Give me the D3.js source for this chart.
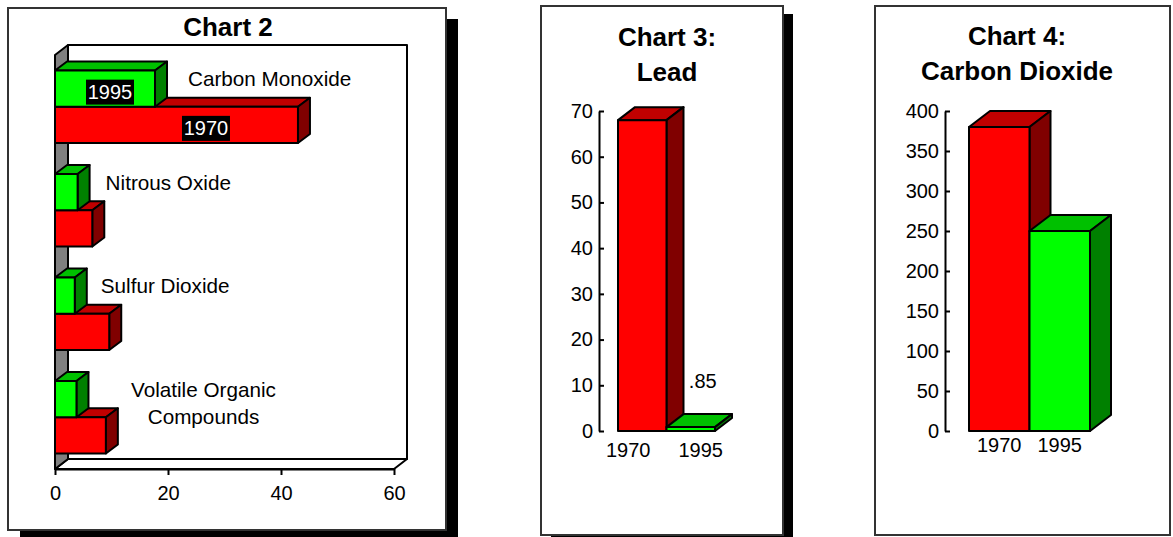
<!DOCTYPE html>
<html>
<head>
<meta charset="utf-8">
<script src="https://cdn.jsdelivr.net/npm/d3@7"></script>
<style>
  body { margin: 0; background: #fff; }
  svg { display: block; font-family: "Liberation Sans", Arial, sans-serif; }
</style>
</head>
<body>
<svg id="page" width="1173" height="537"></svg>
<script>
// ---------- Chart 2: emissions by pollutant, 1970 vs 1995 ----------
const pollutants = ["Carbon Monoxide", "Nitrous Oxide", "Sulfur Dioxide", "Volatile Organic Compounds"];
const pollutantLabelLines = [["Carbon Monoxide"], ["Nitrous Oxide"], ["Sulfur Dioxide"], ["Volatile Organic", "Compounds"]];
const seriesYears = ["1995", "1970"];
const emissions1995 = [17.7, 4.0, 3.5, 3.8];
const emissions1970 = [43.0, 6.6, 9.6, 9.0];
const chart2Ticks = [0, 20, 40, 60];

// ---------- Chart 3: lead ----------
const leadYears = ["1970", "1995"];
const leadValues = [68, 0.85];
const leadValueLabel = ".85";
const leadTicks = [0, 10, 20, 30, 40, 50, 60, 70];

// ---------- Chart 4: carbon dioxide ----------
const co2Years = ["1970", "1995"];
const co2Values = [380, 250];
const co2Ticks = [0, 50, 100, 150, 200, 250, 300, 350, 400];

// colours of the three visible faces of each box
const faces = {
  "1970": { front: "#ff0000", top: "#c00000", side: "#800000" },
  "1995": { front: "#00ff00", top: "#00c000", side: "#008000" }
};

const svg = d3.select("#page");
const FONT = 20;
const NAME_FONT = 20.7;

// panel with drop shadow
function panel(x, y, w, h, shadow) {
  if (shadow) {
    svg.append("rect").attr("x", x + shadow[0]).attr("y", y + shadow[1])
      .attr("width", w).attr("height", h).attr("fill", "#000");
  }
  svg.append("rect").attr("x", x).attr("y", y).attr("width", w).attr("height", h)
    .attr("fill", "#fff").attr("stroke", "#333").attr("stroke-width", 2);
}

// a box seen from above-right: front rectangle, top face, right face
function box(g, x0, x1, y0, y1, dx, dy, c) {
  const poly = (pts, fill) => g.append("polygon")
    .attr("points", pts.map(d => d.join(",")).join(" "))
    .attr("fill", fill).attr("stroke", "#000").attr("stroke-width", 2).attr("stroke-linejoin", "round");
  poly([[x0, y0], [x0 + dx, y0 + dy], [x1 + dx, y0 + dy], [x1, y0]], c.top);
  poly([[x1, y0], [x1 + dx, y0 + dy], [x1 + dx, y1 + dy], [x1, y1]], c.side);
  poly([[x0, y0], [x1, y0], [x1, y1], [x0, y1]], c.front);
}

function styleAxisText(sel, size) {
  sel.selectAll("text").attr("font-size", size).attr("fill", "#000")
    .attr("font-family", "'Liberation Sans', Arial, sans-serif");
}

// ================= Chart 2 =================
panel(8, 8, 438, 522, [12, 11]);
svg.append("text").attr("x", 228).attr("y", 36).attr("text-anchor", "middle")
  .attr("font-size", 26).attr("font-weight", "bold").text("Chart 2");

const x2 = d3.scaleLinear().domain([0, 60]).range([55, 394]);
const y2 = d3.scaleBand().domain(pollutants).range([55, 469]).paddingInner(0.3).paddingOuter(0.15);
const sub2 = d3.scaleBand().domain(seriesYears).range([0, y2.bandwidth()]);
const wall = [13, -10];
const depth2 = [12, -9];

const g2 = svg.append("g");
const [xL, xR] = x2.range();
const [yT, yB] = y2.range();
const wallStyle = s => s.attr("stroke", "#000").attr("stroke-width", 2).attr("stroke-linejoin", "round");
// back wall, floor and left side wall
wallStyle(g2.append("polygon").attr("fill", "#fff").attr("points",
  [[xL + wall[0], yT + wall[1]], [xR + wall[0], yT + wall[1]], [xR + wall[0], yB + wall[1]], [xL + wall[0], yB + wall[1]]].join(" ")));
wallStyle(g2.append("polygon").attr("fill", "#fff").attr("points",
  [[xL, yB], [xR, yB], [xR + wall[0], yB + wall[1]], [xL + wall[0], yB + wall[1]]].join(" ")));
wallStyle(g2.append("polygon").attr("fill", "#808080").attr("points",
  [[xL, yT], [xL + wall[0], yT + wall[1]], [xL + wall[0], yB + wall[1]], [xL, yB]].join(" ")));

// value axis
const ax2 = g2.append("g").attr("transform", `translate(0,${yB})`)
  .call(d3.axisBottom(x2).tickValues(chart2Ticks).tickSizeInner(6).tickSizeOuter(0).tickPadding(11).tickFormat(d3.format("d")));
ax2.select(".domain").attr("stroke-width", 2);
ax2.selectAll(".tick line").attr("stroke-width", 2);
styleAxisText(ax2, FONT);

// bars, bottom group first so upper boxes overlap correctly
const seriesVals = { "1995": emissions1995, "1970": emissions1970 };
const bars2 = g2.append("g");
for (let i = pollutants.length - 1; i >= 0; i--) {
  const cat = pollutants[i];
  ["1970", "1995"].forEach(yr => {
    const y0 = y2(cat) + sub2(yr);
    box(bars2, x2(0), x2(seriesVals[yr][i]), y0, y0 + sub2.bandwidth(), depth2[0], depth2[1], faces[yr]);
  });
}

// series tags on the first group
const tagShift = { "1995": 5, "1970": 29.5 };
seriesYears.forEach(yr => {
  const cx = (x2(0) + x2(seriesVals[yr][0])) / 2 + tagShift[yr];
  const cy = y2(pollutants[0]) + sub2(yr) + sub2.bandwidth() / 2 + 3.5;
  g2.append("rect").attr("x", cx - 24).attr("y", cy - 12.5).attr("width", 48).attr("height", 25).attr("fill", "#000");
  g2.append("text").attr("x", cx).attr("y", cy + 7).attr("text-anchor", "middle")
    .attr("font-size", FONT).attr("fill", "#fff").text(yr);
});

// pollutant names next to the boxes
const nameOffset = [21, 16, 14, 115];
const nameAnchor = ["start", "start", "start", "middle"];
pollutants.forEach((cat, i) => {
  const lx = x2(emissions1995[i]) + depth2[0] + nameOffset[i];
  const t = g2.append("text").attr("font-size", NAME_FONT).attr("text-anchor", nameAnchor[i])
    .attr("x", lx).attr("y", y2(cat) + 15.5);
  pollutantLabelLines[i].forEach((line, k) => {
    t.append("tspan").attr("x", lx).attr("dy", k === 0 ? 0 : 27).text(line);
  });
});

// ================= Column charts (3 and 4) =================
function columns(o) {
  const g = svg.append("g");
  o.title.forEach((line, k) => {
    g.append("text").attr("x", o.titleX).attr("y", o.titleY + k * 35).attr("text-anchor", "middle")
      .attr("font-size", 26).attr("font-weight", "bold").text(line);
  });
  const y = d3.scaleLinear().domain([0, d3.max(o.ticks)]).range([431, 111]);
  const x = d3.scaleBand().domain(o.years).range(o.barRange);
  const xl = d3.scaleBand().domain(o.years).range(o.labelRange);

  const ay = g.append("g").attr("transform", `translate(${o.axisX},0)`)
    .call(d3.axisLeft(y).tickValues(o.ticks).tickSizeInner(-5).tickSizeOuter(0).tickPadding(6));
  ay.select(".domain").attr("stroke-width", 2);
  ay.selectAll(".tick line").attr("stroke-width", 2);
  styleAxisText(ay, FONT);

  o.years.forEach((yr, i) => {
    box(g, x(yr), x(yr) + x.bandwidth(), y(o.values[i]), y(0), o.depth[0], o.depth[1], faces[yr]);
  });

  const ax = g.append("g").attr("transform", `translate(0,${y(0)})`)
    .call(d3.axisBottom(xl).tickSize(0).tickPadding(o.labelPad));
  ax.select(".domain").remove();
  styleAxisText(ax, FONT);
  return { g, x, y };
}

panel(541, 6, 242, 529, [10, 8]);
const c3 = columns({
  title: ["Chart 3:", "Lead"], titleX: 667, titleY: 46,
  years: leadYears, values: leadValues, ticks: leadTicks,
  axisX: 599, barRange: [618, 715], labelRange: [592, 737], labelPad: 12,
  depth: [17, -13]
});
c3.g.append("text").attr("font-size", FONT).attr("text-anchor", "middle")
  .attr("x", c3.x("1995") + c3.x.bandwidth() / 2 + 12)
  .attr("y", c3.y(leadValues[1]) - 39)
  .text(leadValueLabel);

panel(875, 6, 295, 529, null);
columns({
  title: ["Chart 4:", "Carbon Dioxide"], titleX: 1017, titleY: 45,
  years: co2Years, values: co2Values, ticks: co2Ticks,
  axisX: 945, barRange: [969, 1090], labelRange: [969, 1090], labelPad: 7,
  depth: [21, -16]
});
</script>
</body>
</html>
